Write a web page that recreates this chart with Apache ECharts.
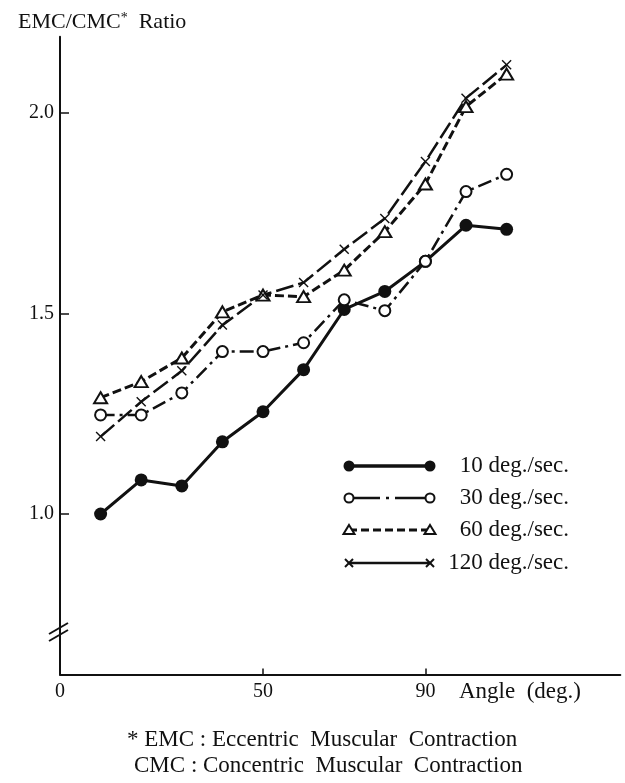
<!DOCTYPE html>
<html>
<head>
<meta charset="utf-8">
<script src="https://cdn.jsdelivr.net/npm/echarts@6/dist/echarts.min.js"></script>
<style>
  html, body { margin: 0; padding: 0; background: #fff; }
  #chart { width: 625px; height: 783px; }
</style>
</head>
<body>
<div id="chart"></div>
<script>
// angle (deg.) and EMC/CMC ratio
var angles = [10, 20, 30, 40, 50, 60, 70, 80, 90, 100, 110];
var ratio10 = [1.00, 1.085, 1.07, 1.18, 1.255, 1.36, 1.51, 1.555, 1.63, 1.72, 1.71];
var ratio30 = [1.247, 1.247, 1.302, 1.405, 1.405, 1.427, 1.534, 1.507, 1.63, 1.804, 1.847];
var ratio60 = [1.29, 1.33, 1.389, 1.504, 1.546, 1.542, 1.608, 1.704, 1.823, 2.016, 2.097];
var ratio120 = [1.193, 1.28, 1.357, 1.471, 1.546, 1.577, 1.66, 1.737, 1.879, 2.037, 2.12];
var xTicks = [50, 90];
var xLabels = [0, 50, 90];
var yTicks = [1.0, 1.5, 2.0];
var names = ['10 deg./sec.', '30 deg./sec.', '60 deg./sec.', '120 deg./sec.'];

var serif = '"Liberation Serif", "DejaVu Serif", serif';
var ink = '#111';
var crossPath = 'path://M0,1L1,0L5,4L9,0L10,1L6,5L10,9L9,10L5,6L1,10L0,9L4,5Z';

function pairs(vals) {
	var out = [];
	for (var i = 0; i < angles.length; i++) {
		out.push([angles[i], vals[i]]);
	}
	return out;
}

// legend drawn by hand: line with a symbol at each end
var legendRows = [466, 498, 530, 563];
var legendX1 = 349, legendX2 = 430;
var legendGraphics = [];
function endSymbol(kind, x, y) {
	if (kind === 'dot') {
		return { type: 'circle', shape: { cx: x, cy: y, r: 5.5 }, style: { fill: ink } };
	}
	if (kind === 'ring') {
		return { type: 'circle', shape: { cx: x, cy: y, r: 4.5 }, style: { fill: '#fff', stroke: ink, lineWidth: 2 } };
	}
	if (kind === 'tri') {
		return { type: 'polygon', shape: { points: [[x, y - 5], [x + 5.5, y + 4], [x - 5.5, y + 4]] },
			style: { fill: '#fff', stroke: ink, lineWidth: 2 } };
	}
	return { type: 'group', children: [
		{ type: 'line', shape: { x1: x - 4, y1: y - 4, x2: x + 4, y2: y + 4 }, style: { stroke: ink, lineWidth: 2 } },
		{ type: 'line', shape: { x1: x - 4, y1: y + 4, x2: x + 4, y2: y - 4 }, style: { stroke: ink, lineWidth: 2 } }
	] };
}
var legendKinds = ['dot', 'ring', 'tri', 'cross'];
var legendDash = [null, [31, 6, 3, 6], [8, 4], null];
var legendWidth = [3.5, 2.5, 3, 2.5];
for (var r = 0; r < 4; r++) {
	var y = legendRows[r];
	legendGraphics.push({ type: 'line', shape: { x1: legendX1, y1: y, x2: legendX2, y2: y },
		style: { stroke: ink, lineWidth: legendWidth[r], lineDash: legendDash[r] } });
	legendGraphics.push(endSymbol(legendKinds[r], legendX1, y));
	legendGraphics.push(endSymbol(legendKinds[r], legendX2, y));
	legendGraphics.push({ type: 'text', x: 569, y: y,
		style: { text: names[r], font: '23px ' + serif, fill: ink, align: 'right', verticalAlign: 'middle' } });
}

var dom = document.getElementById('chart');
var myChart = echarts.init(dom);
var option = {
	backgroundColor: '#fff',
	animation: false,
	title: {
		text: '{a|EMC/CMC}{s|*}{a|  Ratio}',
		left: 13,
		top: 6,
		textStyle: {
			fontWeight: 'normal',
			rich: {
				a: { fontSize: 22, fontFamily: serif, fontWeight: 'normal', color: ink },
				s: { fontSize: 14, fontFamily: serif, fontWeight: 'normal', color: ink, verticalAlign: 'top' }
			}
		}
	},
	grid: { left: 60, right: 4.7, top: 36.8, bottom: 108.6 },
	xAxis: {
		type: 'value',
		min: 0,
		max: 138,
		splitLine: { show: false },
		axisLine: { lineStyle: { color: ink, width: 2 } },
		axisTick: { show: true, inside: true, length: 6, customValues: xTicks, lineStyle: { color: ink, width: 1.5 } },
		axisLabel: { customValues: xLabels, color: ink, fontSize: 20, fontFamily: serif, margin: 7 }
	},
	yAxis: {
		type: 'value',
		min: 0.6,
		max: 2.19,
		splitLine: { show: false },
		axisLine: { show: true, lineStyle: { color: ink, width: 2 } },
		axisTick: { show: true, inside: true, length: 9, customValues: yTicks, lineStyle: { color: ink, width: 1.5 } },
		axisLabel: {
			customValues: yTicks, color: ink, fontSize: 20, fontFamily: serif, margin: 6,
			formatter: function (v) { return v.toFixed(1); }
		}
	},
	graphic: [
		{ type: 'line', shape: { x1: 49, y1: 634, x2: 68, y2: 623 }, style: { stroke: ink, lineWidth: 2 } },
		{ type: 'line', shape: { x1: 49, y1: 641, x2: 68, y2: 630 }, style: { stroke: ink, lineWidth: 2 } },
		{ type: 'text', x: 459, y: 692,
			style: { text: 'Angle  (deg.)', font: '23px ' + serif, fill: ink, verticalAlign: 'middle' } },
		{ type: 'text', x: 127, y: 740,
			style: { text: '* EMC : Eccentric  Muscular  Contraction', font: '23px ' + serif, fill: ink, verticalAlign: 'middle' } },
		{ type: 'text', x: 134, y: 766,
			style: { text: 'CMC : Concentric  Muscular  Contraction', font: '23px ' + serif, fill: ink, verticalAlign: 'middle' } }
	].concat(legendGraphics),
	series: [
		{
			name: names[0], type: 'line', data: pairs(ratio10),
			symbol: 'circle', symbolSize: 13,
			lineStyle: { color: ink, width: 3 },
			itemStyle: { color: ink }
		},
		{
			name: names[1], type: 'line', data: pairs(ratio30),
			symbol: 'circle', symbolSize: 11,
			lineStyle: { color: ink, width: 2.5, type: [14, 5, 3, 5] },
			itemStyle: { color: '#fff', borderColor: ink, borderWidth: 2 }
		},
		{
			name: names[2], type: 'line', data: pairs(ratio60),
			symbol: 'triangle', symbolSize: [13, 11],
			lineStyle: { color: ink, width: 3, type: [9, 4] },
			itemStyle: { color: '#fff', borderColor: ink, borderWidth: 2 }
		},
		{
			name: names[3], type: 'line', data: pairs(ratio120),
			symbol: crossPath, symbolSize: 10,
			lineStyle: { color: ink, width: 2.5, type: [18, 5] },
			itemStyle: { color: ink }
		}
	]
};
if (option && typeof option === "object") {
	myChart.setOption(option, true);
}
</script>
</body>
</html>
